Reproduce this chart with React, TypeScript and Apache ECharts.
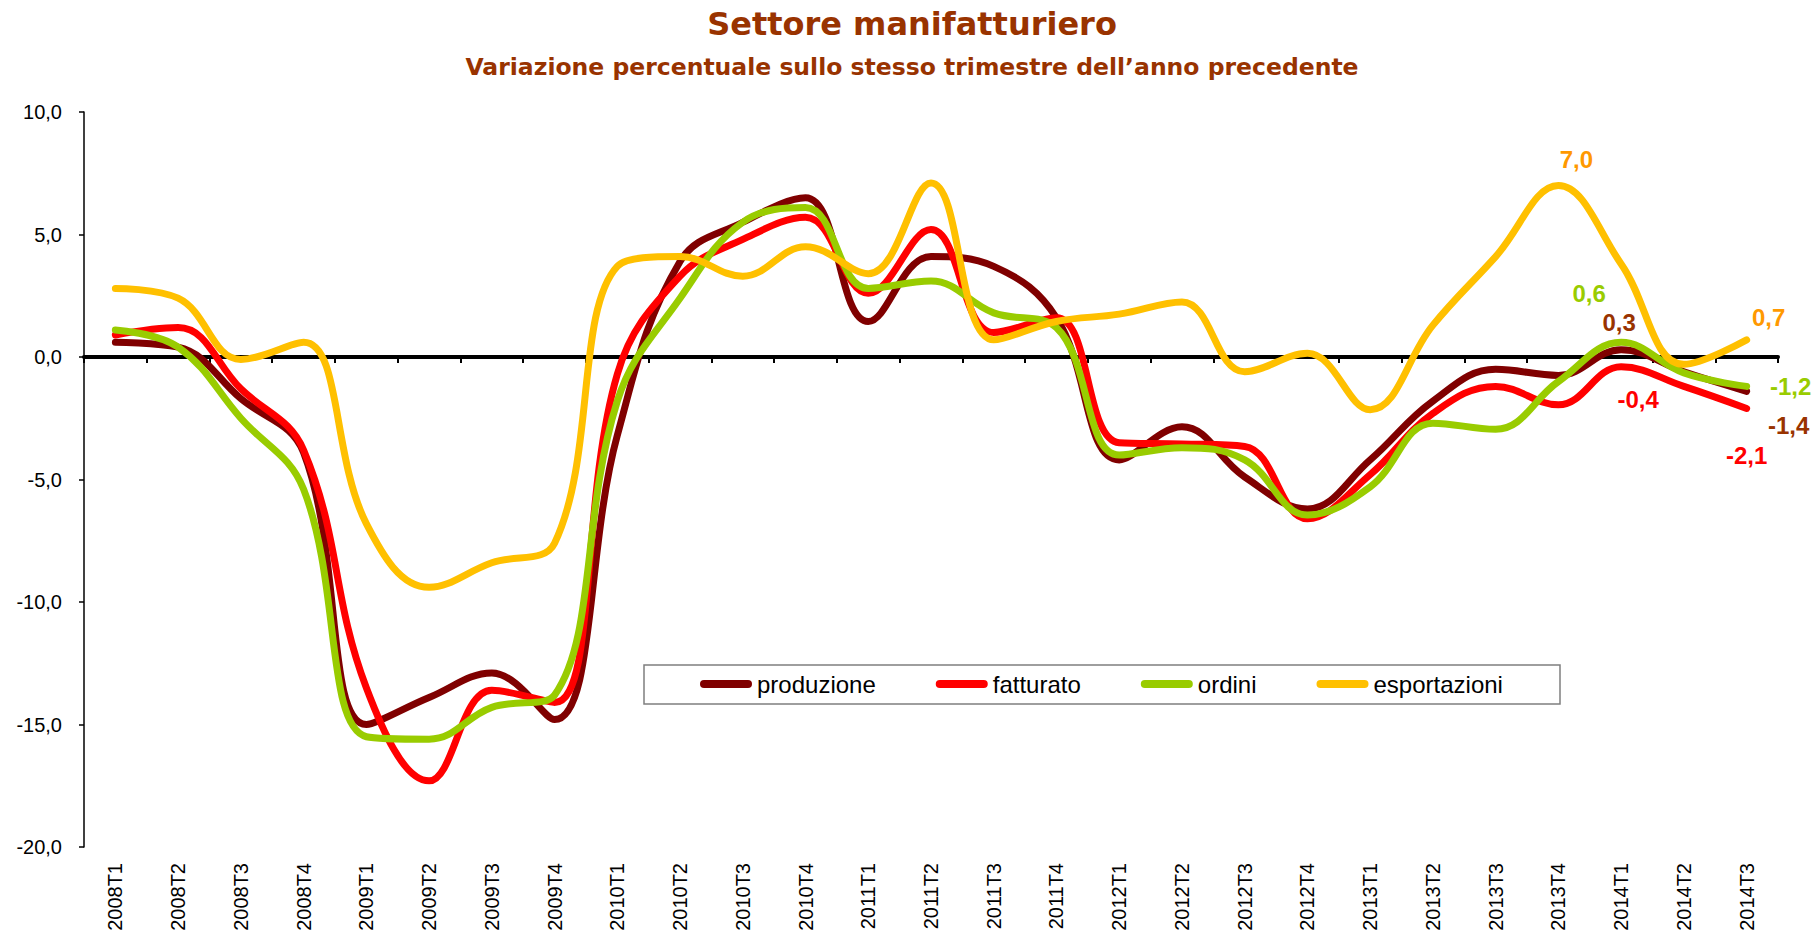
import React, { useEffect, useRef } from "react";
import * as echarts from "echarts";

const categories = [
  "2008T1", "2008T2", "2008T3", "2008T4",
  "2009T1", "2009T2", "2009T3", "2009T4",
  "2010T1", "2010T2", "2010T3", "2010T4",
  "2011T1", "2011T2", "2011T3", "2011T4",
  "2012T1", "2012T2", "2012T3", "2012T4",
  "2013T1", "2013T2", "2013T3", "2013T4",
  "2014T1", "2014T2", "2014T3",
];

const produzione = [
  0.6, 0.4, -1.7, -3.9, -15.0, -13.9, -12.9, -14.8, -3.2, 3.9, 5.5, 6.5, 1.45, 4.1,
  3.7, 1.6, -4.2, -2.85, -4.9, -6.2, -4.2, -1.8, -0.5, -0.75, 0.3, -0.6, -1.4,
];
const fatturato = [
  0.9, 1.2, -1.3, -3.8, -13.5, -17.3, -13.6, -14.1, -0.7, 3.3, 4.8, 5.7, 2.6, 5.2,
  1.0, 1.6, -3.5, -3.55, -3.65, -6.6, -4.8, -2.3, -1.2, -1.95, -0.4, -1.2, -2.1,
];
const ordini = [
  1.1, 0.4, -2.5, -5.4, -15.5, -15.6, -14.3, -13.8, -1.8, 2.4, 5.5, 6.1, 2.8, 3.1,
  1.8, 1.2, -4.0, -3.7, -4.2, -6.45, -5.3, -2.7, -2.95, -1.0, 0.6, -0.65, -1.2,
];
const esportazioni = [
  2.8, 2.4, -0.1, 0.6, -6.8, -9.4, -8.4, -7.6, 3.7, 4.1, 3.3, 4.5, 3.4, 7.1,
  0.7, 1.45, 1.75, 2.25, -0.6, 0.15, -2.15, 1.3, 4.1, 7.0, 3.8, -0.3, 0.7,
];

const seriesNames = ["produzione", "fatturato", "ordini", "esportazioni"];
const lineColors = ["#800000", "#FF0000", "#99CC00", "#FFC000"];
const labelColors = ["#993300", "#FF0000", "#99CC00", "#FF9900"];

// labelled points: [category index, dx, dy]
const labelSpots: number[][][] = [
  [[24, -2, -27], [26, 42, 34]],
  [[24, 17, 33], [26, 0, 47]],
  [[24, -32, -49], [26, 44, 0]],
  [[23, 18, -26], [26, 22, -22]],
];

const fmt = (v: number) => v.toFixed(1).replace(".", ",");

export default function App() {
  const ref = useRef<HTMLDivElement>(null);
  useEffect(() => {
    if (!ref.current) return;
    const chart = echarts.init(ref.current, null, { renderer: "svg" });
    const allData = [produzione, fatturato, ordini, esportazioni];
    const series = allData.map((arr, si) => {
      const data = arr.map((v, i) => {
        const spot = labelSpots[si].find((s) => s[0] === i);
        if (!spot) return v;
        return {
          value: v,
          label: {
            show: true,
            position: "inside",
            offset: [spot[1], spot[2]],
            formatter: (p: any) => fmt(p.value),
            color: labelColors[si],
            fontSize: 24,
            fontWeight: "bold",
            fontFamily: "Arial, 'Liberation Sans', sans-serif",
            align: "center",
            verticalAlign: "middle",
          },
        };
      });
      return {
        name: seriesNames[si],
        type: "line",
        xAxisIndex: 0,
        yAxisIndex: 0,
        smooth: 0.4,
        symbol: "circle",
        symbolSize: 0,
        showSymbol: true,
        showAllSymbol: true,
        color: lineColors[si],
        lineStyle: { width: 7, color: lineColors[si], cap: "round", join: "round" },
        label: { show: false },
        emphasis: { disabled: true },
        data,
      };
    });

    const option: any = {
      animation: false,
      backgroundColor: "#ffffff",
      grid: { left: 84, right: 36, top: 112, bottom: 87, containLabel: false },
      graphic: [
        {
          type: "text",
          x: 912,
          y: 24,
          style: {
            text: "Settore manifatturiero",
            fill: "#993300",
            font: "bold 32px 'DejaVu Sans', sans-serif",
            textAlign: "center",
            textVerticalAlign: "middle",
          },
        },
        {
          type: "text",
          x: 912,
          y: 67,
          style: {
            text: "Variazione percentuale sullo stesso trimestre dell’anno precedente",
            fill: "#993300",
            font: "bold 23.5px 'DejaVu Sans', sans-serif",
            textAlign: "center",
            textVerticalAlign: "middle",
          },
        },
        {
          type: "rect",
          z: 3,
          shape: { x: 644, y: 665, width: 916, height: 39 },
          style: { fill: "#ffffff", stroke: "#7f7f7f", lineWidth: 1.5 },
        },
      ],
      legend: {
        left: 700,
        top: 672,
        padding: 0,
        itemGap: 60,
        itemWidth: 52,
        itemHeight: 8,
        z: 5,
        icon: "path://M4 0H48A4 4 0 0 1 48 8H4A4 4 0 0 1 4 0Z",
        data: seriesNames,
        textStyle: {
          fontSize: 24,
          color: "#000000",
          fontFamily: "Arial, 'Liberation Sans', sans-serif",
        },
      },
      xAxis: [
        {
          type: "category",
          data: categories,
          boundaryGap: true,
          position: "bottom",
          axisLine: { show: false, onZero: false },
          axisTick: { show: false },
          splitLine: { show: false },
          axisLabel: {
            rotate: 90,
            interval: 0,
            margin: 16,
            fontSize: 20,
            color: "#000000",
            fontFamily: "Arial, 'Liberation Sans', sans-serif",
          },
        },
        {
          type: "category",
          data: categories,
          boundaryGap: true,
          position: "bottom",
          axisLine: { show: true, onZero: true, lineStyle: { color: "#000000", width: 4 } },
          axisTick: { show: true, length: 6, inside: false, lineStyle: { color: "#000000", width: 2 } },
          axisLabel: { show: false },
          splitLine: { show: false },
        },
      ],
      yAxis: {
        type: "value",
        min: -20,
        max: 10,
        interval: 5,
        splitLine: { show: false },
        axisLine: { show: true, lineStyle: { color: "#000000", width: 1.5 } },
        axisTick: { show: true, length: 5, lineStyle: { color: "#000000", width: 1.5 } },
        axisLabel: {
          formatter: (v: number) => fmt(v),
          fontSize: 20,
          margin: 22,
          color: "#000000",
          fontFamily: "Arial, 'Liberation Sans', sans-serif",
        },
      },
      series,
    };
    chart.setOption(option);
    return () => chart.dispose();
  }, []);

  return (
    <div
      ref={ref}
      style={{ position: "fixed", left: 0, top: 0, width: 1814, height: 934, background: "#fff" }}
    />
  );
}
